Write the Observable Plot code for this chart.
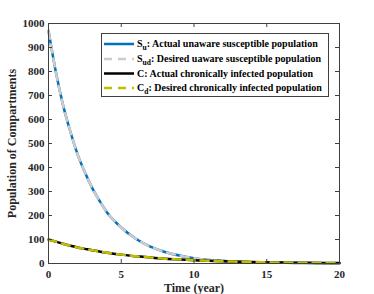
<!DOCTYPE html>
<html>
<head>
<meta charset="utf-8">
<script src="https://cdn.jsdelivr.net/npm/d3@7"></script>
<script src="https://cdn.jsdelivr.net/npm/@observablehq/plot@0.6"></script>
<style>
  html, body { margin: 0; padding: 0; background: #fff; }
  #chart svg { display: block; }
</style>
</head>
<body>
<div id="chart"></div>
<script>
// ---- data ----
const time = [0, 0.5, 1, 1.5, 2, 2.5, 3, 3.5, 4, 5, 6, 7, 8, 9, 10, 11, 12, 13, 14, 15, 16, 17, 18, 19, 20];
const Su  = [970, 800, 660, 550, 455, 380, 315, 262, 215, 150, 103, 70, 48, 33, 22, 15, 11, 7, 5, 4, 3, 2, 1.5, 1, 1];
const Sud = [970, 800, 660, 550, 455, 380, 315, 262, 215, 150, 103, 70, 48, 33, 22, 15, 11, 7, 5, 4, 3, 2, 1.5, 1, 1];
const C   = [100, 91, 82, 74, 67, 61, 55, 50, 45, 37, 30, 25, 20, 17, 14, 11, 9, 7.5, 6, 5, 4, 3.4, 2.8, 2.3, 1.9];
const Cd  = [100, 91, 82, 74, 67, 61, 55, 50, 45, 37, 30, 25, 20, 17, 14, 11, 9, 7.5, 6, 5, 4, 3.4, 2.8, 2.3, 1.9];
const xTicks = [0, 5, 10, 15, 20];
const yTicks = [0, 100, 200, 300, 400, 500, 600, 700, 800, 900, 1000];
const xLabel = "Time (year)";
const yLabel = "Population of Compartments";
const seriesInfo = [
  {key: "Su",  sym: "S", sub: "u",  text: ": Actual unaware susceptible population"},
  {key: "Sud", sym: "S", sub: "ud", text: ": Desired uaware susceptible population"},
  {key: "C",   sym: "C", sub: "",   text: ": Actual chronically infected population"},
  {key: "Cd",  sym: "C", sub: "d",  text: ": Desired chronically infected population"}
];

const styles = {
  Su:  {stroke: "#0072BD", strokeWidth: 2.5, dash: null},
  Sud: {stroke: "#cccccc", strokeWidth: 2.5, dash: "8,6"},
  C:   {stroke: "#000000", strokeWidth: 2.5, dash: null},
  Cd:  {stroke: "#bfbf00", strokeWidth: 2.5, dash: "8,6"}
};

const values = {Su, Sud, C, Cd};
const rows = k => time.map((t, i) => ({t, v: values[k][i]}));

const W = 374, H = 294;
const mL = 48, mR = 35, mT = 23, mB = 31;
const plotH = H - mT - mB, plotW = W - mL - mR;
const axisColor = "#404040";
const tickLen = 4;
const serif = "'Liberation Serif', 'Times New Roman', serif";

const lineMark = k => Plot.line(rows(k), {
  x: "t", y: "v", curve: "monotone-x",
  stroke: styles[k].stroke, strokeWidth: styles[k].strokeWidth,
  strokeDasharray: styles[k].dash
});

const svg = Plot.plot({
  width: W, height: H,
  marginLeft: mL, marginRight: mR, marginTop: mT, marginBottom: mB,
  style: {fontFamily: serif, fontSize: "11px", fontWeight: "bold", color: "#262626", background: "#fff"},
  x: {domain: [0, 20]},
  y: {domain: [0, 1000]},
  marks: [
    lineMark("Su"), lineMark("Sud"), lineMark("C"), lineMark("Cd"),
    Plot.frame({stroke: axisColor, strokeWidth: 1}),
    // inward ticks
    Plot.tickX(xTicks, {x: d => d, insetTop: plotH - tickLen, stroke: axisColor}),
    Plot.tickX(xTicks, {x: d => d, insetBottom: plotH - tickLen, stroke: axisColor}),
    Plot.tickY(yTicks, {y: d => d, insetRight: plotW - tickLen, stroke: axisColor}),
    Plot.tickY(yTicks, {y: d => d, insetLeft: plotW - tickLen, stroke: axisColor}),
    Plot.axisX({ticks: xTicks, tickSize: 0, tickPadding: 7, label: null, tickFormat: d => String(d), fill: "#262626"}),
    Plot.axisY({ticks: yTicks, tickSize: 0, tickPadding: 4, label: null, tickFormat: d => String(d), fill: "#262626"}),
    Plot.text([xLabel], {frameAnchor: "bottom", dy: 28, text: d => d, fontSize: 12, fill: "#262626"}),
    Plot.text([yLabel], {frameAnchor: "left", textAnchor: "middle", dx: -36, rotate: -90, text: d => d, fontSize: 12, fill: "#262626"})
  ]
});

// ---- legend ----
const lg = d3.select(svg).append("g").attr("font-size", 10).attr("font-weight", "bold")
  .attr("font-family", serif).attr("text-anchor", "start");
const box = {x: 101.5, y: 33.5, w: 227, h: 63};
lg.append("rect").attr("x", box.x).attr("y", box.y).attr("width", box.w).attr("height", box.h)
  .attr("fill", "#fff").attr("stroke", axisColor).attr("stroke-width", 1);
const rowY = [44, 59, 73.5, 88];
seriesInfo.forEach((s, i) => {
  const st = styles[s.key];
  lg.append("line").attr("x1", 104).attr("x2", 134).attr("y1", rowY[i]).attr("y2", rowY[i])
    .attr("stroke", st.stroke).attr("stroke-width", 2.5)
    .attr("stroke-dasharray", st.dash);
  const tx = lg.append("text").attr("x", 137).attr("y", rowY[i]).attr("dy", "0.32em").attr("fill", "#000");
  tx.append("tspan").text(s.sym);
  if (s.sub) tx.append("tspan").attr("font-size", 7.5).attr("dy", "0.35em").text(s.sub);
  tx.append("tspan").attr("dy", s.sub ? "-0.3em" : null).text(s.text);
});

document.getElementById("chart").appendChild(svg);
</script>
</body>
</html>
